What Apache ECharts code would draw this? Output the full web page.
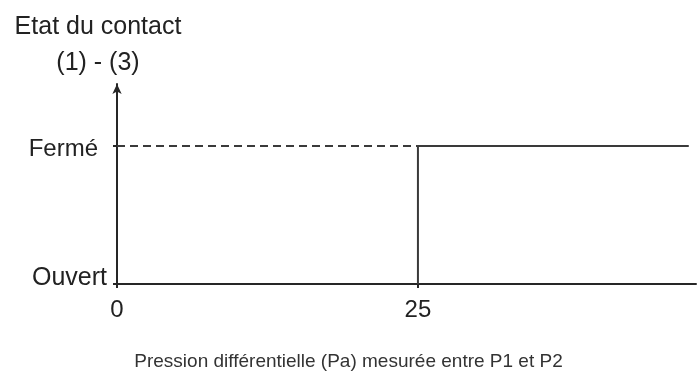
<!DOCTYPE html>
<html><head><meta charset="utf-8">
<script src="https://cdn.jsdelivr.net/npm/echarts@6/dist/echarts.min.js"></script>
<style>html,body{margin:0;padding:0;background:#fff}#c{width:697px;height:374px}</style>
</head><body><div id="c"></div>
<script>
// Data
const yStates = ['Ouvert', 'Fermé'];          // state 0, state 1
const xTickLabels = ['0', '25'];
const threshold = 25;                           // Pa
const xEnd = 47.5;                              // end of the solid line
const dashedSeries = [[0, 1], [threshold, 1]];
const stepSeries = [[threshold, 0], [threshold, 1], [xEnd, 1]];
const yTitle = 'Etat du contact\n(1) - (3)';
const xTitle = 'Pression différentielle (Pa) mesurée entre P1 et P2';

const chart = echarts.init(document.getElementById('c'));
const axisCol = '#262626';
const lineCol = '#3a3a3a';
chart.setOption({
  animation: false,
  title: [
    { text: yTitle, left: 93, top: 4, textAlign: 'center',
      textStyle: { fontFamily: 'Liberation Sans', fontSize: 25, fontWeight: 'normal', color: '#222', lineHeight: 36 } },
    { text: xTitle, left: 'center', top: 347,
      textStyle: { fontFamily: 'Liberation Sans', fontSize: 19, fontWeight: 'normal', color: '#333' } }
  ],
  grid: { left: 117, right: 1, top: 84, bottom: 90, containLabel: false },
  xAxis: {
    type: 'value', min: 0, max: 48.1, interval: 25,
    splitLine: { show: false },
    axisLine: { lineStyle: { color: axisCol, width: 2 } },
    axisTick: { length: 4, lineStyle: { color: axisCol, width: 2 } },
    axisLabel: {
      showMaxLabel: false, margin: 14,
      fontFamily: 'Liberation Sans', fontSize: 24, color: '#222',
      formatter: v => v === 0 ? xTickLabels[0] : (v === threshold ? xTickLabels[1] : '')
    }
  },
  yAxis: {
    type: 'value', min: 0, max: 1.45, interval: 1,
    splitLine: { show: false },
    axisLine: { show: true, symbol: ['none', 'arrow'], symbolSize: [7, 10], lineStyle: { color: axisCol, width: 2 } },
    axisTick: { show: true, length: 4, lineStyle: { color: axisCol, width: 2 } },
    axisLabel: {
      showMaxLabel: false, margin: 10,
      formatter: v => v === 0 ? '{o|' + yStates[0] + '}' : (v === 1 ? '{f|' + yStates[1] + '}' : ''),
      rich: {
        o: { fontFamily: 'Liberation Sans', fontSize: 25, color: '#222', padding: [0, 0, 12, 0] },
        f: { fontFamily: 'Liberation Sans', fontSize: 24, color: '#222', padding: [6, 9, 0, 0] }
      }
    }
  },
  series: [
    { type: 'line', data: dashedSeries, symbol: 'none', silent: true,
      lineStyle: { color: lineCol, width: 2, type: [8, 5] } },
    { type: 'line', data: stepSeries, symbol: 'none', silent: true,
      lineStyle: { color: lineCol, width: 2 } }
  ]
});
</script></body></html>
